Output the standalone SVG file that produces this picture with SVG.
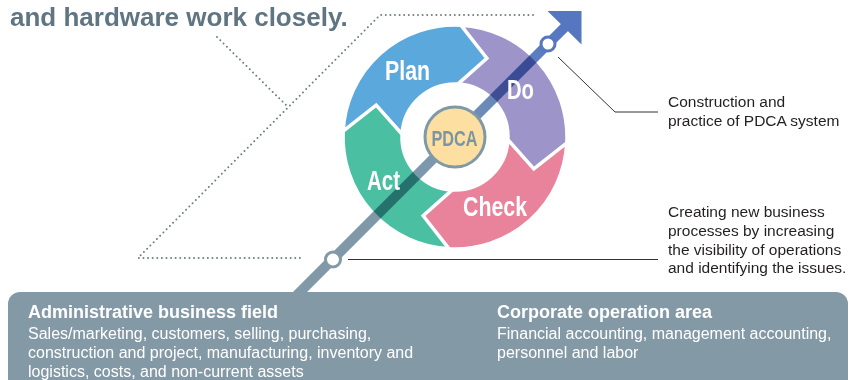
<svg xmlns="http://www.w3.org/2000/svg" width="851" height="380" viewBox="0 0 851 380">
<defs>
<style>
.seg{stroke:#fff;stroke-width:3.5;stroke-linejoin:miter;mix-blend-mode:multiply}
.lbl{font-family:"Liberation Sans",Arial,sans-serif;font-weight:bold;font-size:27px;fill:#fff}
.note{font-family:"Liberation Sans",Arial,sans-serif;font-size:15.5px;fill:#231f20}
.boxh{font-family:"Liberation Sans",Arial,sans-serif;font-weight:bold;font-size:18px;fill:#fff}
.boxt{font-family:"Liberation Sans",Arial,sans-serif;font-size:16px;fill:#fff}
.dot{fill:none;stroke:#6b7f8a;stroke-width:2;stroke-linecap:round;stroke-dasharray:0 4.6}
.lead{fill:none;stroke:#333;stroke-width:1}
</style>
<linearGradient id="shaft" gradientUnits="userSpaceOnUse" x1="300" y1="292" x2="565" y2="27">
<stop offset="0" stop-color="#8299a6"/>
<stop offset="0.55" stop-color="#7c97ad"/>
<stop offset="0.78" stop-color="#6283bd"/>
<stop offset="1" stop-color="#5677c0"/>
</linearGradient>
</defs>

<g id="title">
<text x="10" y="26" font-family="Liberation Sans, Arial, sans-serif" font-weight="bold" font-size="26" fill="#5f7582">and hardware work closely.</text>
</g>

<g id="connectors">
<path class="dot" d="M533,15 L380,15 L138,258 L303,258"/>
<path class="dot" d="M217,37 L288,107"/>
<line x1="285" y1="307" x2="566" y2="26" stroke="url(#shaft)" stroke-width="10"/>
<polygon points="547.5,11 581.5,11 581.5,44.5" fill="#5677c0"/>
<circle cx="548" cy="44" r="7" fill="#fff" stroke="#5677c0" stroke-width="3"/>
<circle cx="333" cy="259.5" r="7.5" fill="#fff" stroke="#8299a6" stroke-width="3"/>
<polyline class="lead" points="558,57 615,112 658,112"/>
<line class="lead" x1="348" y1="259.5" x2="658" y2="259.5"/>
</g>

<g id="plan">
<path class="seg" fill="#5ba8dc" d="M343.16,131.14 A112,112 0 0 1 460.86,25.16 L486.84,58.19 L457.77,84.07 A53,53 0 0 0 402.07,134.23 L376.19,105.16 Z"/>
<text class="lbl" x="385" y="80" textLength="45" lengthAdjust="spacingAndGlyphs">Plan</text>
</g>
<g id="do">
<path class="seg" fill="#9d95c9" d="M460.86,25.16 A112,112 0 0 1 566.84,142.86 L533.81,168.84 L507.93,139.77 A53,53 0 0 0 457.77,84.07 L486.84,58.19 Z"/>
<text class="lbl" x="507" y="99" textLength="27" lengthAdjust="spacingAndGlyphs">Do</text>
</g>
<g id="check">
<path class="seg" fill="#e8839b" d="M566.84,142.86 A112,112 0 0 1 449.14,248.84 L423.16,215.81 L452.23,189.93 A53,53 0 0 0 507.93,139.77 L533.81,168.84 Z"/>
<text class="lbl" x="463" y="216" textLength="64" lengthAdjust="spacingAndGlyphs">Check</text>
</g>
<g id="act">
<path class="seg" fill="#4bbfa2" d="M449.14,248.84 A112,112 0 0 1 343.16,131.14 L376.19,105.16 L402.07,134.23 A53,53 0 0 0 452.23,189.93 L423.16,215.81 Z"/>
<text class="lbl" x="367" y="190" textLength="33" lengthAdjust="spacingAndGlyphs">Act</text>
</g>

<g id="pdca">
<circle cx="455" cy="137" r="30" fill="#fddfa2" stroke="#7f99a7" stroke-width="3"/>
<text x="431.5" y="146" font-family="Liberation Sans, Arial, sans-serif" font-weight="bold" font-size="22" fill="#7b95a4" textLength="46" lengthAdjust="spacingAndGlyphs">PDCA</text>
</g>

<g id="note-pdca">
<text class="note" x="668" y="107">Construction and</text>
<text class="note" x="668" y="125.7">practice of PDCA system</text>
</g>
<g id="note-visibility">
<text class="note" x="668" y="217.3">Creating new business</text>
<text class="note" x="668" y="236">processes by increasing</text>
<text class="note" x="668" y="254.7">the visibility of operations</text>
<text class="note" x="668" y="273.4">and identifying the issues.</text>
</g>

<g id="fields">
<rect x="8" y="292" width="840" height="110" rx="12" fill="#8499a6"/>
<g id="admin-field">
<text class="boxh" x="28" y="318">Administrative business field</text>
<text class="boxt" x="28" y="338.5">Sales/marketing, customers, selling, purchasing,</text>
<text class="boxt" x="28" y="357.5">construction and project, manufacturing, inventory and</text>
<text class="boxt" x="28" y="376.5">logistics, costs, and non-current assets</text>
</g>
<g id="corporate-area">
<text class="boxh" x="497" y="318">Corporate operation area</text>
<text class="boxt" x="497" y="338.5">Financial accounting, management accounting,</text>
<text class="boxt" x="497" y="357.5">personnel and labor</text>
</g>
</g>
</svg>
